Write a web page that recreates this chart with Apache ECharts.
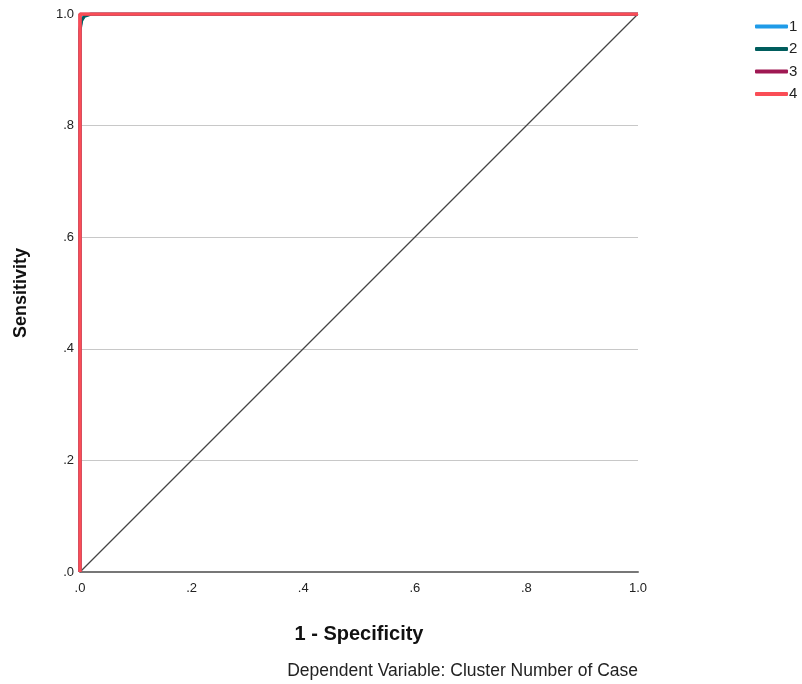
<!DOCTYPE html>
<html>
<head>
<meta charset="utf-8">
<script src="https://cdn.jsdelivr.net/npm/echarts@6/dist/echarts.min.js"></script>
<style>
  html, body { margin: 0; padding: 0; background: #fff; }
  #chart { width: 802px; height: 684px; }
</style>
</head>
<body>
<div id="chart"></div>
<script>
// ROC curves per cluster, [1 - specificity, sensitivity]
var seriesNames = ['1', '2', '3', '4'];
var curve1 = [[0, 0], [0, 0.975], [0.003, 0.99], [0.008, 0.997], [0.02, 1], [1, 1]];
var curve2 = [[0, 0], [0, 0.97], [0.003, 0.988], [0.008, 0.996], [0.02, 1], [1, 1]];
var curve3 = [[0, 0], [0, 1], [1, 1]];
var curve4 = [[0, 0], [0, 1], [1, 1]];
var diagonal = [[0, 0], [1, 1]];
var colors = ['#1f9be8', '#005d5d', '#9f1853', '#fa4d56'];

var fmt = function (v) {
  if (v === 0) return '.0';
  if (v === 1) return '1.0';
  return String(+v.toFixed(1)).replace('0.', '.');
};

var myChart = echarts.init(document.getElementById('chart'));
var fontFamily = 'Liberation Sans, Arial, sans-serif';

var curves = [curve1, curve2, curve3, curve4];
var series = curves.map(function (d, i) {
  return {
    name: seriesNames[i],
    type: 'line',
    data: d,
    showSymbol: false,
    lineStyle: { width: i === 3 ? 3.5 : 3, color: colors[i] },
    itemStyle: { color: colors[i] },
    z: 3 + i
  };
});
series.unshift({
  name: 'ref',
  type: 'line',
  data: diagonal,
  showSymbol: false,
  lineStyle: { width: 1.3, color: '#444' },
  z: 2
});

myChart.setOption({
  animation: false,
  textStyle: { fontFamily: fontFamily },
  grid: { left: 80, right: 164, top: 14, bottom: 112 },
  legend: {
    data: seriesNames,
    orient: 'vertical',
    left: 750,
    top: 14,
    itemWidth: 33,
    itemHeight: 4,
    itemGap: 7.5,
    icon: 'roundRect',
    textStyle: { fontSize: 15, color: '#222', padding: [0, 0, 0, -4] }
  },
  xAxis: {
    type: 'value',
    min: 0, max: 1, interval: 0.2,
    name: '1 - Specificity',
    nameLocation: 'middle',
    nameGap: 52,
    nameTextStyle: { fontSize: 20, fontWeight: 'bold', color: '#111' },
    axisLine: { show: true, lineStyle: { color: '#777', width: 2 } },
    axisTick: { show: false },
    splitLine: { show: false },
    axisLabel: { formatter: fmt, fontSize: 13, color: '#222', margin: 10 }
  },
  yAxis: {
    type: 'value',
    min: 0, max: 1, interval: 0.2,
    name: 'Sensitivity',
    nameLocation: 'middle',
    nameGap: 50,
    nameTextStyle: { fontSize: 18, fontWeight: 'bold', color: '#111' },
    axisLine: { show: false },
    axisTick: { show: false },
    splitLine: { show: true, lineStyle: { color: '#c8c8c8', width: 1 } },
    axisLabel: { formatter: fmt, fontSize: 13, color: '#222', margin: 6 }
  },
  graphic: [{
    type: 'text',
    right: 164,
    top: 662,
    style: {
      text: 'Dependent Variable: Cluster Number of Case',
      fontSize: 17.5, fill: '#222', fontFamily: fontFamily
    }
  }],
  series: series
});
</script>
</body>
</html>
